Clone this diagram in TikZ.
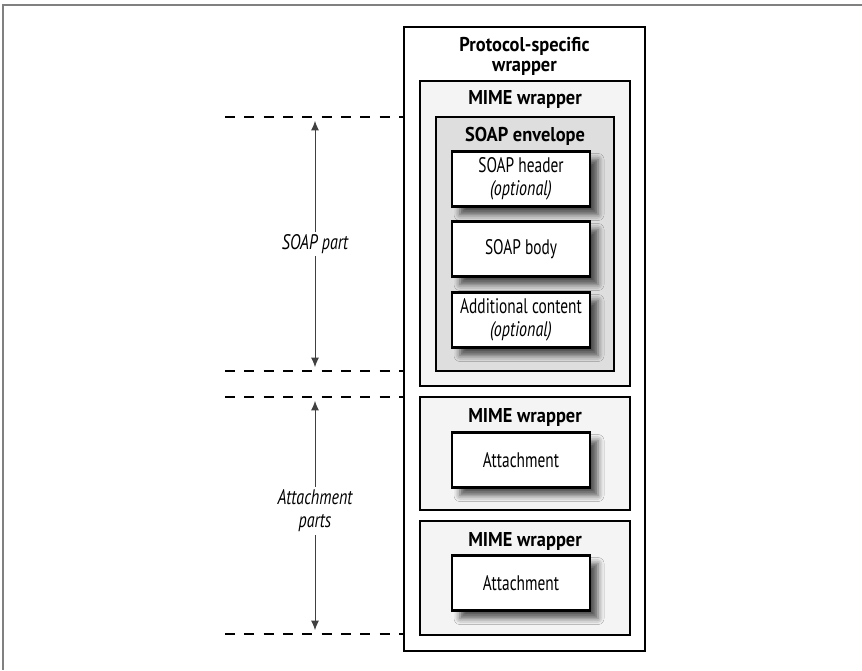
\documentclass[tikz,border=0pt]{standalone}
\usepackage{fontspec}
\setmainfont[FakeStretch=0.73,
    BoldFeatures={FakeStretch=0.92},
    ItalicFeatures={FakeStretch=0.76}]{PT Sans}
\usepackage{tikz}
\usetikzlibrary{positioning}
\usetikzlibrary{arrows.meta}
\usetikzlibrary{shadows.blur}
\definecolor{mimegray}{gray}{0.955}
\definecolor{envgray}{gray}{0.87}
\definecolor{framegray}{gray}{0.5}

\begin{document}
\begin{tikzpicture}[x=0.75pt, y=-0.75pt,
        every node/.style={font=\fontsize{15.8}{17}\selectfont},
        frame/.style={draw=black, line width=2.1pt, inner sep=0pt},
        wrapper/.style={frame, fill=mimegray, minimum width=157.5pt},
        envelope/.style={frame, fill=envgray, minimum width=133.5pt, minimum height=190.5pt},
        part/.style={frame, fill=white, minimum width=103.5pt, minimum height=41.25pt, align=center,
            blur shadow={shadow xshift=6pt, shadow yshift=-6pt, shadow blur radius=4.5pt, shadow opacity=65}},
        title/.style={font=\fontsize{15}{15}\selectfont\bfseries, align=center, inner sep=0pt},
        dashline/.style={dashed, dash pattern=on 7.5pt off 7pt, line width=1.6pt},
        span/.style={{Latex[length=7pt,width=6pt]}-{Latex[length=7pt,width=6pt]}, draw=black!75, line width=0.7pt},
        spanlabel/.style={fill=white, font=\fontsize{15.8}{17}\selectfont\itshape, align=center, inner sep=2pt}]
        \useasboundingbox (0,0) rectangle (862,670);
        \draw [framegray, line width=1.5pt] (3,670) -- (3,5) -- (862,5);

        % the boxes, from outside to inside
        \node [frame, fill=white, minimum width=180.75pt, minimum height=468pt] (proto) at (524.5,339) {};
        \node [title] (protot) at (524.5,56) {Protocol-specific\\wrapper};

        \node [wrapper, minimum height=228.75pt] (mimeA) at (525,233.5) {};
        \node [title] (mimeAt) at (525,100) {MIME wrapper};
        \node [envelope] (env) at (525,244) {};
        \node [title] (envt) at (525,136) {SOAP envelope};
        \node [part] (header) at (521,179) {SOAP header\\\textit{(optional)}};
        \node [part] (body) at (521,249) {SOAP body};
        \node [part] (extra) at (521,320) {Additional content\\\textit{(optional)}};

        \node [wrapper, minimum height=84.75pt] (mimeB) at (525,453.5) {};
        \node [title] (mimeBt) at (525,417) {MIME wrapper};
        \node [part] (attA) at (521,460) {Attachment};

        \node [wrapper, minimum height=85.5pt] (mimeC) at (525,578) {};
        \node [title] (mimeCt) at (525,541) {MIME wrapper};
        \node [part] (attB) at (521,583) {Attachment};

        % dashed guides on the left
        \coordinate (soapTop) at (225,117);
        \coordinate (soapBot) at (225,371);
        \coordinate (attTop) at (225,397);
        \coordinate (attBot) at (225,634);
        \foreach \c in {soapTop,soapBot,attTop,attBot}
            \draw [dashline] (\c) -- (\c -| proto.west);

        \def\xx{315}
        \draw [span] (\xx,121) -- (\xx,367) node [midway, spanlabel] (soappart) {SOAP part};
        \draw [span] (\xx,401) -- (\xx,630) node [pos=0.48, spanlabel] (attparts) {Attachment\\parts};
    \end{tikzpicture}
\end{document}
